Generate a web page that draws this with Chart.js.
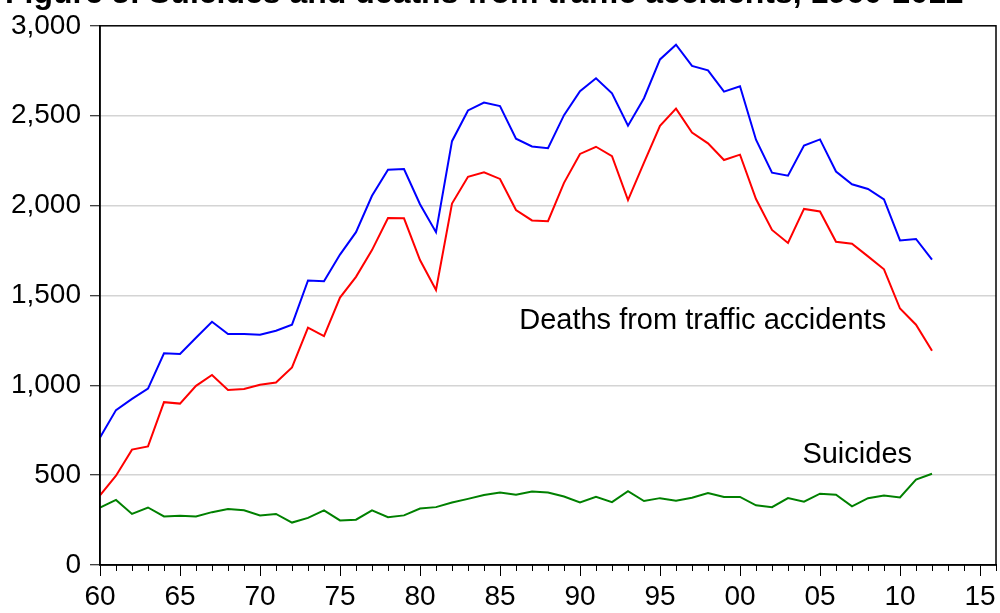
<!DOCTYPE html>
<html>
<head>
<meta charset="utf-8">
<script src="https://cdn.jsdelivr.net/npm/chart.js@4/dist/chart.umd.min.js"></script>
<style>
  html, body { margin: 0; padding: 0; background: #fff; }
  #c { display: block; }
</style>
</head>
<body>
<canvas id="c" width="1000" height="613"></canvas>
<script>
const titleText = "Figure 3: Suicides and deaths from traffic accidents, 1960-2012";
const years = [1960,1961,1962,1963,1964,1965,1966,1967,1968,1969,
               1970,1971,1972,1973,1974,1975,1976,1977,1978,1979,
               1980,1981,1982,1983,1984,1985,1986,1987,1988,1989,
               1990,1991,1992,1993,1994,1995,1996,1997,1998,1999,
               2000,2001,2002,2003,2004,2005,2006,2007,2008,2009,
               2010,2011,2012];
// Blue series (upper traffic-accident line)
const trafficTotal = [709,862,924,981,1178,1174,1264,1353,1285,1285,
                      1281,1303,1337,1583,1579,1727,1852,2054,2199,2203,
                      2007,1852,2358,2529,2573,2553,2372,2329,2319,2503,
                      2636,2708,2624,2444,2597,2813,2895,2777,2752,2634,
                      2664,2366,2183,2166,2334,2368,2189,2118,2092,2034,
                      1806,1814,1699];
// Red series (lower traffic-accident line)
const trafficDeaths = [387,497,642,660,906,898,997,1057,974,979,
                       1003,1015,1099,1321,1274,1488,1603,1752,1931,1929,
                       1697,1530,2011,2160,2185,2148,1975,1917,1913,2126,
                       2287,2327,2275,2030,2239,2444,2539,2406,2346,2253,
                       2283,2036,1864,1792,1981,1967,1798,1788,1717,1645,
                       1427,1337,1192];
// Green series (suicides)
const suicides = [320,362,284,320,270,274,270,294,312,304,
                  276,284,236,262,304,248,252,304,266,276,
                  314,322,348,368,389,403,391,409,403,381,
                  348,379,350,411,356,372,358,374,401,379,
                  379,332,322,372,352,397,391,326,372,387,
                  376,475,508];
const xMin = 1960, xMax = 2016;
const yTicks = [0,500,1000,1500,2000,2500,3000];
const labelTraffic = { text: "Deaths from traffic accidents", x: 1986.2, y: 1314 };
const labelSuicides = { text: "Suicides", x: 2003.9, y: 566 };

const FONT = "'Liberation Sans', Arial, Helvetica, sans-serif";

const toXY = arr => arr.map((v, i) => ({ x: years[i], y: v }));

const decorPlugin = {
  id: 'decor',
  afterDraw(chart) {
    const ctx = chart.ctx;
    const a = chart.chartArea;
    const xs = chart.scales.x, ys = chart.scales.y;
    ctx.save();
    // minor ticks on x axis
    ctx.strokeStyle = '#000';
    ctx.lineWidth = 1;
    for (let yr = xMin; yr <= xMax; yr++) {
      if (yr % 5 === 0) continue;
      const px = Math.round(xs.getPixelForValue(yr)) + 0.5;
      ctx.beginPath();
      ctx.moveTo(px, a.bottom);
      ctx.lineTo(px, a.bottom + 6);
      ctx.stroke();
    }
    // frame
    ctx.lineWidth = 1.5;
    ctx.strokeRect(a.left, a.top, a.right - a.left, a.bottom - a.top);
    // annotations
    ctx.fillStyle = '#000';
    ctx.font = "29px " + FONT;
    ctx.textBaseline = 'alphabetic';
    ctx.textAlign = 'left';
    [labelTraffic, labelSuicides].forEach(l => {
      ctx.fillText(l.text, xs.getPixelForValue(l.x), ys.getPixelForValue(l.y));
    });
    // title (partly cut at top)
    ctx.font = "bold 32px " + FONT;
    ctx.fillText(titleText, 5, 3);
    ctx.restore();
  }
};

new Chart(document.getElementById('c'), {
  type: 'line',
  data: {
    datasets: [
      { label: 'Total', data: toXY(trafficTotal), borderColor: '#0000ff', borderWidth: 2, pointRadius: 0, tension: 0, fill: false },
      { label: 'Traffic deaths', data: toXY(trafficDeaths), borderColor: '#ff0000', borderWidth: 2, pointRadius: 0, tension: 0, fill: false },
      { label: 'Suicides', data: toXY(suicides), borderColor: '#008000', borderWidth: 2, pointRadius: 0, tension: 0, fill: false }
    ]
  },
  options: {
    responsive: false,
    animation: false,
    devicePixelRatio: 1,
    layout: { padding: { top: 24, right: 4, left: 0, bottom: 0 } },
    plugins: { legend: { display: false }, tooltip: { enabled: false }, title: { display: false } },
    scales: {
      x: {
        type: 'linear',
        min: xMin, max: xMax,
        afterBuildTicks: s => { s.ticks = []; for (let yr = xMin; yr < xMax; yr += 5) s.ticks.push({ value: yr }); },
        afterFit: s => { s.height = 48; },
        ticks: {
          autoSkip: false, maxRotation: 0, padding: 4,
          color: '#000',
          font: { family: FONT, size: 28, lineHeight: 1.2 },
          callback: v => String(v % 100).padStart(2, '0')
        },
        grid: { drawOnChartArea: false, tickLength: 11, tickColor: '#000', tickWidth: 1 },
        border: { display: true, color: '#000', width: 1.5 }
      },
      y: {
        min: 0, max: 3000,
        afterBuildTicks: s => { s.ticks = yTicks.map(v => ({ value: v })); },
        afterFit: s => { s.width = 100; },
        ticks: {
          padding: 9, color: '#000',
          font: { family: FONT, size: 28, lineHeight: 1.2 },
          callback: v => v.toLocaleString('en-US')
        },
        grid: {
          color: c => (c.tick && (c.tick.value === 0 || c.tick.value === 3000)) ? 'rgba(0,0,0,0)' : '#d4d4d4',
          lineWidth: 1.5, tickLength: 10, tickColor: '#000', tickWidth: 1
        },
        border: { display: true, color: '#000', width: 1.5 }
      }
    }
  },
  plugins: [decorPlugin]
});
</script>
</body>
</html>
